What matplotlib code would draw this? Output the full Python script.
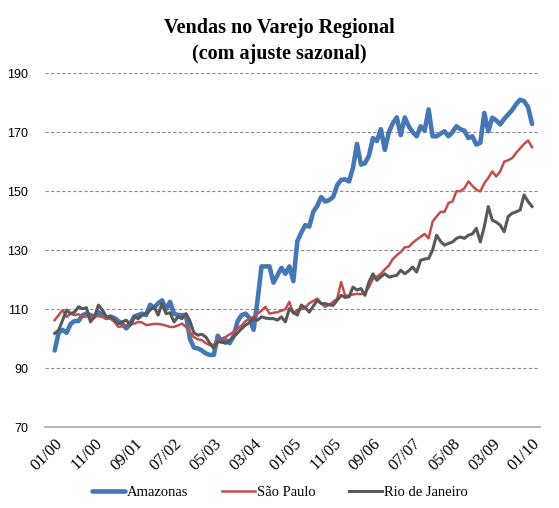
import numpy as np
import matplotlib.pyplot as plt

tick_labels = ['01/00', '11/00', '09/01', '07/02', '05/03', '03/04', '01/05',
               '11/05', '09/06', '07/07', '05/08', '03/09', '01/10']

amazonas = [96, 102, 103, 102, 105, 106, 106, 108, 108.5, 108,
            107.5, 109, 108, 107, 107.5, 107, 106, 105, 103.5, 105,
            107.5, 108, 108.5, 108, 111.5, 110.5, 112, 113, 110, 112.5,
            108.5, 108, 108, 108, 100, 97, 96.7, 96, 95, 94.5,
            94.5, 101, 99, 99.5, 98.5, 101, 106, 108, 108.5, 107,
            103, 113, 124.5, 124.5, 124.5, 119, 121.5, 124, 122, 124.5,
            119.5, 133, 136, 138.5, 138, 143, 145, 148, 146.5, 147,
            148, 152, 153.8, 154, 153.3, 158, 166, 159, 159.5, 162,
            168, 167, 171, 164, 170, 173, 175, 169, 175, 172,
            170, 168.6, 172, 170.5, 177.7, 168.6, 168.6, 169.5, 170.3, 168.6,
            170, 172, 171, 170.5, 168, 168.6, 165.8, 166.4, 176.5, 170.3,
            174.9, 174, 172.6, 174.5, 176, 177.5, 179.5, 181, 180.5, 178.5,
            172.8]

sao_paulo = [106.3, 108, 109.7, 107.4, 108.5, 108, 108.3, 107.4, 107.5, 107.4,
             108, 107.6, 107.4, 106.8, 106.8, 105.7, 104, 104.2, 104.6, 104.8,
             105.1, 105.7, 105.5, 104.6, 104.8, 105, 105, 104.8, 104.4, 104,
             104, 104.5, 105.1, 104, 102.3, 100.5, 99.8, 99.5, 98.5, 97.8,
             98, 99.3, 100, 100.6, 101.5, 102.3, 103.5, 104.5, 106, 106.8,
             107.4, 108.5, 109.5, 110.8, 108.5, 108.8, 109, 109.5, 110, 112.5,
             108.5, 109.7, 110, 110.5, 112, 112.8, 113.6, 112, 110.8, 111.5,
             112.5, 113.5, 119.2, 114.7, 114.6, 115, 115.2, 115.1, 115.5, 117.5,
             120.3, 121, 122, 123.5, 124.8, 127, 128.3, 129.4, 131, 131.1,
             132.5, 133.6, 134.5, 135.5, 134, 139.7, 141.4, 143, 143, 146,
             146.5, 150, 150, 151, 153.3, 151.8, 150.5, 149.9, 152.7, 154.5,
             156.7, 155, 156.7, 160, 160.5, 161.2, 163, 164.5, 166, 167.2,
             164.9]

rio = [101.8, 102.9, 106.3, 109.7, 108.5, 109, 110.8, 110.2, 110.5, 105.7,
       107.4, 111.4, 109.7, 107.4, 107.4, 106.5, 105.1, 105.7, 106.3, 104.6,
       107.4, 106.8, 108, 108.5, 109.7, 110.8, 108, 111.9, 108.5, 108.8,
       105.7, 107.4, 106.8, 108.5, 106, 102, 101.2, 101.5, 100.6, 98.5,
       96.7, 98.9, 99, 98.4, 99.5, 100.6, 102, 103.4, 104.6, 105.5,
       106.8, 106.3, 107.4, 107, 106.8, 106.8, 106.3, 107.4, 105.7, 110.2,
       109, 108, 111.4, 110.5, 109, 111, 113, 111.9, 111.9, 111.5,
       111.3, 113, 114.7, 114, 114.2, 117.5, 116.5, 117, 114.7, 119.2,
       122, 119.8, 121, 122, 120.9, 121.2, 121.5, 123.2, 122, 123,
       124.3, 122.6, 126.6, 127, 127.2, 130, 135.1, 133, 131.7, 132.3,
       132.8, 134, 134.5, 134, 135.1, 135.5, 137.4, 132.8, 138, 144.8,
       140.2, 139.5, 138.5, 136.25, 141.4, 142.5, 143, 143.6, 148.75, 146.5,
       144.8]

x = np.arange(len(amazonas))

fig = plt.figure(figsize=(5.59, 5.08), dpi=100)
ax = fig.add_axes([0.08, 0.159, 0.886, 0.697])

ax.plot(x, amazonas, color='#4677B5', lw=3.3, label='Amazonas', solid_capstyle='round')
ax.plot(x, sao_paulo, color='#C0504D', lw=1.8, label='São Paulo')
ax.plot(x, rio, color='#595959', lw=2.2, label='Rio de Janeiro')

ax.set_ylim(70, 190)
ax.set_xlim(-2.5, 122)
ax.set_yticks(np.arange(70, 191, 20))
ax.set_xticks(np.arange(0, 121, 10))
ax.set_xticklabels(tick_labels, rotation=45, ha='right', va='top',
                   rotation_mode='anchor', family='Liberation Serif', fontsize=12)
for lab in ax.get_yticklabels():
    lab.set_family('Liberation Sans')
    lab.set_fontsize(9)
ax.tick_params(length=0, pad=6)
ax.tick_params(axis='y', pad=12)

for v in range(90, 191, 20):
    ax.axhline(v, color='#8C8C8C', lw=0.8, ls=(0, (3, 2)), zorder=0)
for s in ['top', 'right', 'left']:
    ax.spines[s].set_visible(False)
ax.spines['bottom'].set_color('#A6A6A6')
ax.spines['bottom'].set_linewidth(1.2)

fig.text(0.5, 0.945, 'Vendas no Varejo Regional', ha='center', va='center',
         family='Liberation Serif', fontweight='bold', fontsize=14.5)
fig.text(0.5, 0.893, '(com ajuste sazonal)', ha='center', va='center',
         family='Liberation Serif', fontweight='bold', fontsize=14.5)

leg = fig.legend(loc='lower center', bbox_to_anchor=(0.5, -0.008), ncol=3, frameon=False,
                 prop={'family': 'Liberation Serif', 'size': 10.5},
                 handlelength=2.3, handletextpad=0.1, columnspacing=2.3)

fig.savefig('out.png', dpi=100)
